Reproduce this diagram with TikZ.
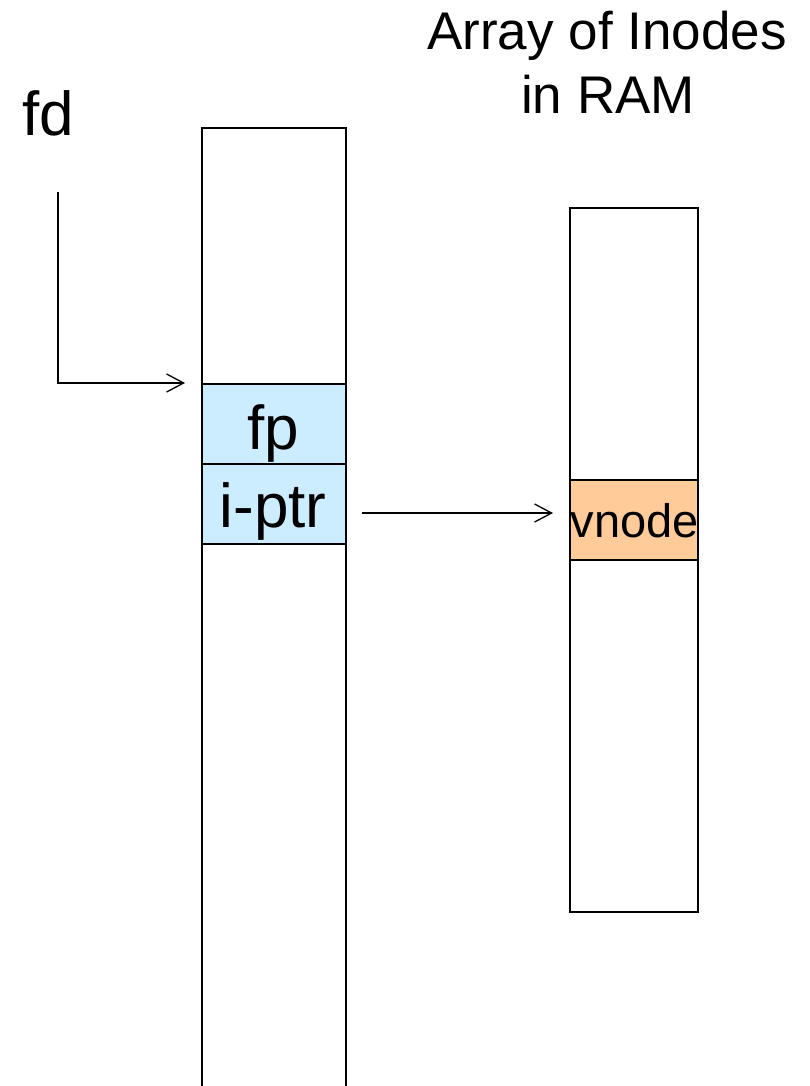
\documentclass[tikz,border=0pt]{standalone}
\usepackage{fontspec}
\setmainfont{Liberation Sans}
\usetikzlibrary{arrows.meta}
\definecolor{cellblue}{HTML}{CCECFF}
\definecolor{cellorange}{HTML}{FFCC99}
\tikzset{
  col/.style={draw=black, line width=1.3pt, inner sep=0pt, outer sep=0pt},
  cell/.style={draw=black, line width=1.3pt, inner sep=0pt, outer sep=0pt, anchor=north west},
  celltext/.style={inner sep=0pt, anchor=base, font=\fontsize{62}{68}\selectfont},
  titletext/.style={inner sep=0pt, anchor=base, font=\fontsize{53}{60}\selectfont},
  small/.style={inner sep=0pt, anchor=base, font=\fontsize{47}{52}\selectfont},
  ptr/.style={line width=1.3pt, -{Straight Barb[length=17pt,width=18pt,line width=1.3pt]}}
}
\begin{document}
\begin{tikzpicture}[x=1pt,y=-1pt]
\useasboundingbox (0,0) rectangle (809,1086);
% columns
\node[col, anchor=north west, minimum width=144pt, minimum height=1000pt] (leftcol) at (202,128) {};
\node[col, anchor=north west, minimum width=128pt, minimum height=704pt] (rightcol) at (570,208) {};
% cells
\node[cell, fill=cellblue, minimum width=144pt, minimum height=80pt] (fpcell) at (202,384) {};
\node[cell, fill=cellblue, minimum width=144pt, minimum height=80pt] (iptrcell) at (202,464) {};
\node[cell, fill=cellorange, minimum width=128pt, minimum height=80pt] (vnodecell) at (570,480) {};
% labels
\node[celltext] (fptext) at (273,449) {fp};
\node[celltext] (iptrtext) at (273,527) {i-ptr};
\node[small] (vnodetext) at (635,537) {vnode};
\node[celltext] (fd) at (48,136) {fd};
\node[titletext] (title1) at (607,50) {Array of Inodes};
\node[titletext] (title2) at (608,114) {in RAM};
% connectors
\coordinate (fdstart) at (58,192);
\coordinate (fdtip) at (185,383);
\coordinate (ipstart) at (362,513);
\coordinate (iptip) at (553,513);
\draw[ptr] (fdstart) |- (fdtip);
\draw[ptr] (ipstart) -- (iptip);
\end{tikzpicture}
\end{document}
